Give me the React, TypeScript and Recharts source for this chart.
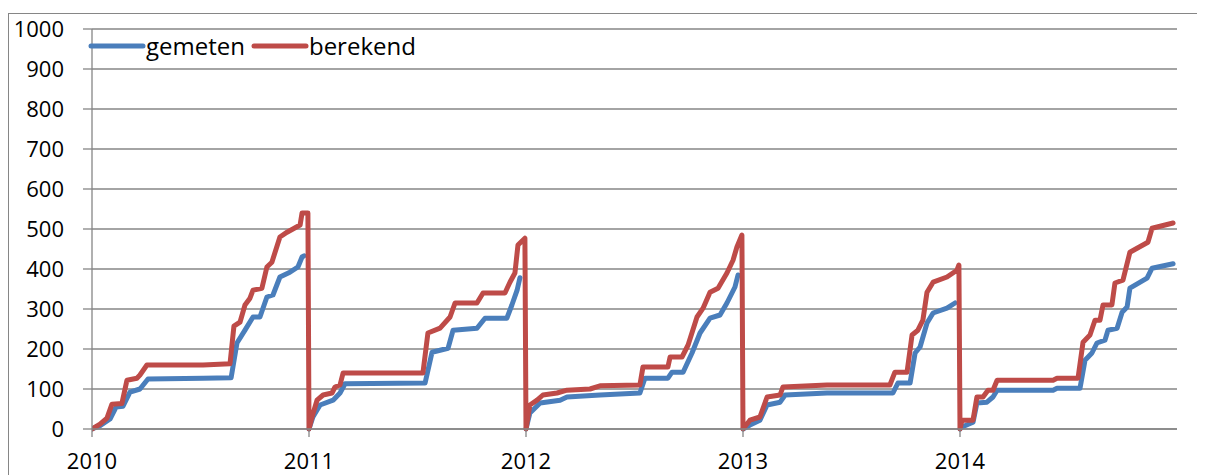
import { CartesianGrid, Legend, Line, LineChart, XAxis, YAxis } from "recharts";

const BLUE = "#4a7ebb";
const RED = "#be4b48";
const GRID = "#868686";
const FONT = "'Open Sans', sans-serif";

const seriesNames = ["gemeten", "berekend"];
const yearTicks = [2010, 2011, 2012, 2013, 2014];
const valueTicks = [0, 100, 200, 300, 400, 500, 600, 700, 800, 900, 1000];

// measured series, blank at the end of each year
const gemetenTime = [
    2010.0, 2010.037, 2010.083, 2010.111, 2010.143, 2010.175, 2010.221, 2010.258, 2010.512, 2010.641, 2010.668,
    2010.705, 2010.742, 2010.774, 2010.806, 2010.834, 2010.866, 2010.912, 2010.949, 2010.968, 2010.977, 2010.99,
    2011.0, 2011.018, 2011.051, 2011.111, 2011.143, 2011.166, 2011.535, 2011.567, 2011.641, 2011.664, 2011.774,
    2011.811, 2011.912, 2011.935, 2011.959, 2011.972, 2011.99,
    2012.0, 2012.018, 2012.065, 2012.157, 2012.189, 2012.341, 2012.525, 2012.548, 2012.654, 2012.673, 2012.724,
    2012.765, 2012.802, 2012.848, 2012.894, 2012.926, 2012.963, 2012.977, 2012.99,
    2013.0, 2013.032, 2013.078, 2013.111, 2013.171, 2013.194, 2013.387, 2013.691, 2013.714, 2013.77, 2013.793,
    2013.816, 2013.848, 2013.876, 2013.94, 2013.977, 2013.99,
    2014.0, 2014.009, 2014.06, 2014.078, 2014.124, 2014.152, 2014.171, 2014.429, 2014.447, 2014.553, 2014.576,
    2014.608, 2014.631, 2014.668, 2014.682, 2014.724, 2014.747, 2014.77, 2014.783, 2014.862, 2014.885, 2014.982,
];
const gemeten = [
    0, 8, 25, 55, 57, 92, 100, 125, 127, 128, 215, 247, 280, 280, 330, 335, 380, 392, 405, 430, 433, null,
    0, 30, 60, 72, 90, 113, 115, 192, 202, 247, 252, 277, 277, 310, 347, 378, null,
    0, 40, 65, 72, 80, 85, 90, 127, 127, 142, 142, 190, 240, 277, 285, 315, 355, 385, null,
    0, 10, 22, 60, 67, 85, 90, 90, 115, 115, 190, 205, 265, 290, 302, 315, null,
    0, 5, 17, 65, 67, 80, 97, 97, 102, 102, 172, 190, 215, 222, 247, 252, 292, 305, 352, 377, 402, 413,
];

// calculated series
const berekendTime = [
    2010.0, 2010.037, 2010.069, 2010.092, 2010.138, 2010.161, 2010.207, 2010.221, 2010.253, 2010.512, 2010.636,
    2010.654, 2010.682, 2010.705, 2010.728, 2010.742, 2010.783, 2010.806, 2010.829, 2010.866, 2010.899, 2010.959,
    2010.968, 2010.995,
    2011.0, 2011.014, 2011.037, 2011.065, 2011.106, 2011.12, 2011.143, 2011.157, 2011.525, 2011.548, 2011.604,
    2011.65, 2011.673, 2011.774, 2011.802, 2011.903, 2011.926, 2011.949, 2011.963, 2011.995,
    2012.0, 2012.018, 2012.051, 2012.078, 2012.143, 2012.189, 2012.295, 2012.341, 2012.525, 2012.539, 2012.654,
    2012.664, 2012.719, 2012.747, 2012.788, 2012.816, 2012.848, 2012.885, 2012.926, 2012.954, 2012.972, 2012.995,
    2013.0, 2013.032, 2013.078, 2013.111, 2013.171, 2013.184, 2013.387, 2013.677, 2013.7, 2013.756, 2013.779,
    2013.806, 2013.829, 2013.848, 2013.876, 2013.94, 2013.986, 2013.995,
    2014.0, 2014.009, 2014.06, 2014.078, 2014.106, 2014.129, 2014.152, 2014.171, 2014.429, 2014.447, 2014.544,
    2014.567, 2014.599, 2014.622, 2014.645, 2014.659, 2014.7, 2014.714, 2014.751, 2014.783, 2014.816, 2014.866,
    2014.885, 2014.982,
];
const berekend = [
    0, 12, 27, 62, 64, 122, 127, 135, 160, 160, 163, 257, 267, 310, 327, 347, 352, 405, 417, 480, 492, 510, 540, 540,
    0, 30, 72, 85, 90, 105, 110, 140, 140, 240, 252, 280, 315, 315, 340, 340, 367, 390, 460, 477,
    0, 60, 72, 85, 90, 97, 100, 108, 110, 155, 155, 180, 180, 210, 280, 302, 342, 352, 390, 422, 455, 485,
    0, 22, 30, 80, 85, 105, 110, 110, 142, 142, 235, 247, 272, 342, 367, 380, 397, 410,
    0, 22, 22, 80, 80, 97, 97, 122, 122, 127, 127, 217, 235, 272, 272, 310, 310, 365, 372, 442, 452, 467, 502, 515,
];

const toPoints = (time: number[], values: (number | null)[]) => time.map((t, i) => ({ t, v: values[i] }));

const gemetenData = toPoints(gemetenTime, gemeten);
const berekendData = toPoints(berekendTime, berekend);

const SeriesLegend = () => (
    <div style={{ display: "flex", alignItems: "center", fontFamily: FONT, fontSize: 24, color: "#000" }}>
        {seriesNames.map((name, i) => (
            <div key={name} style={{ display: "flex", alignItems: "center", marginRight: 6 }}>
                <svg width={58} height={10}>
                    <line x1={3} y1={5} x2={55} y2={5} stroke={i === 0 ? BLUE : RED} strokeWidth={5} strokeLinecap="round" />
                </svg>
                <span style={{ lineHeight: "30px" }}>{name}</span>
            </div>
        ))}
    </div>
);

const App = () => {
    const tickStyle = { fontFamily: FONT, fontSize: 22, fill: "#000" };
    return (
        <div style={{ position: "relative", width: 1197, height: 467 }}>
            <div
                style={{
                    position: "absolute",
                    top: 5,
                    left: 0,
                    width: 1197,
                    height: 462,
                    borderTop: `1px solid ${GRID}`,
                    borderLeft: `1px solid ${GRID}`,
                    boxSizing: "border-box",
                }}
            />
            <LineChart
                width={1197}
                height={467}
                margin={{ top: 21, right: 28, left: 0, bottom: 16 }}
                style={{ position: "absolute", top: 0, left: 0 }}
            >
                <CartesianGrid vertical={false} stroke={GRID} strokeWidth={1.3} />
                <XAxis
                    dataKey="t"
                    type="number"
                    domain={[2010, 2015]}
                    ticks={yearTicks}
                    tickFormatter={(t) => String(t)}
                    stroke={GRID}
                    strokeWidth={1.3}
                    tickSize={8}
                    tickMargin={16}
                    tick={tickStyle}
                    height={30}
                    allowDataOverflow
                />
                <YAxis
                    type="number"
                    domain={[0, 1000]}
                    ticks={valueTicks}
                    stroke={GRID}
                    strokeWidth={1.3}
                    tickSize={9}
                    tickMargin={19}
                    tick={tickStyle}
                    width={84}
                />
                <Legend
                    verticalAlign="middle"
                    content={() => <SeriesLegend />}
                    wrapperStyle={{ top: 23, left: 80, width: "auto", height: "auto" }}
                />
                <Line
                    data={gemetenData}
                    dataKey="v"
                    name={seriesNames[0]}
                    type="linear"
                    stroke={BLUE}
                    strokeWidth={5}
                    strokeLinecap="round"
                    strokeLinejoin="round"
                    dot={false}
                    activeDot={false}
                    connectNulls={false}
                    isAnimationActive={false}
                />
                <Line
                    data={berekendData}
                    dataKey="v"
                    name={seriesNames[1]}
                    type="linear"
                    stroke={RED}
                    strokeWidth={5}
                    strokeLinecap="round"
                    strokeLinejoin="round"
                    dot={false}
                    activeDot={false}
                    isAnimationActive={false}
                />
            </LineChart>
        </div>
    );
};

export default App;
